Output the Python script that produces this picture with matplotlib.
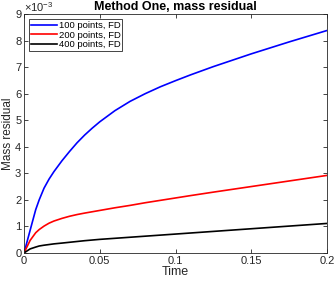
import matplotlib
matplotlib.use("Agg")
from matplotlib import pyplot as plt

plt.rcParams['font.family'] = ['Liberation Sans', 'DejaVu Sans']
plt.rcParams['mathtext.fontset'] = 'custom'
plt.rcParams['mathtext.rm'] = 'Liberation Sans'

# time samples and mass residual (units of 1e-3)
time = [0, 0.004, 0.0077, 0.01, 0.0132, 0.0165, 0.0197, 0.025, 0.03, 0.035, 0.04, 0.045,
        0.05, 0.06, 0.07, 0.08, 0.09, 0.1, 0.11, 0.125, 0.15, 0.175, 0.2]
res_100 = [0, 0.85, 1.63, 2.0, 2.44, 2.78, 3.06, 3.47, 3.82, 4.15, 4.44, 4.7,
           4.94, 5.36, 5.71, 6.0, 6.26, 6.49, 6.71, 7.02, 7.5, 7.95, 8.38]
res_200 = [0, 0.47, 0.76, 0.88, 1.01, 1.12, 1.2, 1.3, 1.38, 1.445, 1.5, 1.55,
           1.6, 1.7, 1.79, 1.89, 1.98, 2.07, 2.16, 2.29, 2.5, 2.71, 2.92]
res_400 = [0, 0.15, 0.22, 0.26, 0.29, 0.315, 0.34, 0.37, 0.4, 0.43, 0.46, 0.485,
           0.51, 0.55, 0.59, 0.63, 0.67, 0.71, 0.75, 0.81, 0.91, 1.01, 1.11]
labels = ["100 points, FD", "200 points, FD", "400 points, FD"]
colors = ["#0000ff", "#ff0000", "#000000"]
xticks = [0, 0.05, 0.1, 0.15, 0.2]
xticklabels = ["0", "0.05", "0.1", "0.15", "0.2"]
yticks = [0, 1, 2, 3, 4, 5, 6, 7, 8, 9]

fig = plt.figure(figsize=(3.34, 2.81), dpi=100)
ax = fig.add_axes([0.072, 0.1, 0.907, 0.85])

for y, lab, c in zip([res_100, res_200, res_400], labels, colors):
    ax.plot(time, y, color=c, lw=1.2, label=lab)

ax.set_xlim(0, 0.2)
ax.set_ylim(0, 9)
ax.set_xticks(xticks)
ax.set_xticklabels(xticklabels)
ax.set_yticks(yticks)
ax.set_yticklabels([str(v) for v in yticks])

gray = "#262626"
for s in ax.spines.values():
    s.set_color(gray)
    s.set_linewidth(0.6)
ax.tick_params(direction="in", top=True, right=True, length=3, width=0.6,
               color=gray, labelcolor=gray, labelsize=8, pad=2)

# MATLAB-style exponent label above the y axis
ax.text(0.0, 1.0, r"$\times10^{-3}$", transform=ax.transAxes, ha="left", va="bottom",
        fontsize=8, color=gray)

ax.set_xlabel("Time", fontsize=9, labelpad=0, color=gray)
ax.set_ylabel("Mass residual", fontsize=8.5, color=gray)
ax.yaxis.set_label_coords(-0.033, 0.5)
ax.set_title("Method One, mass residual", fontsize=9, fontweight="bold", pad=3)

leg = ax.legend(loc="upper left", fontsize=6.8, fancybox=False, handlelength=2.7,
                handletextpad=0.2, labelspacing=0.05, borderpad=0.2,
                borderaxespad=0.55, framealpha=1)
leg.get_frame().set_edgecolor(gray)
leg.get_frame().set_linewidth(0.6)

fig.savefig("out.png", dpi=100)
